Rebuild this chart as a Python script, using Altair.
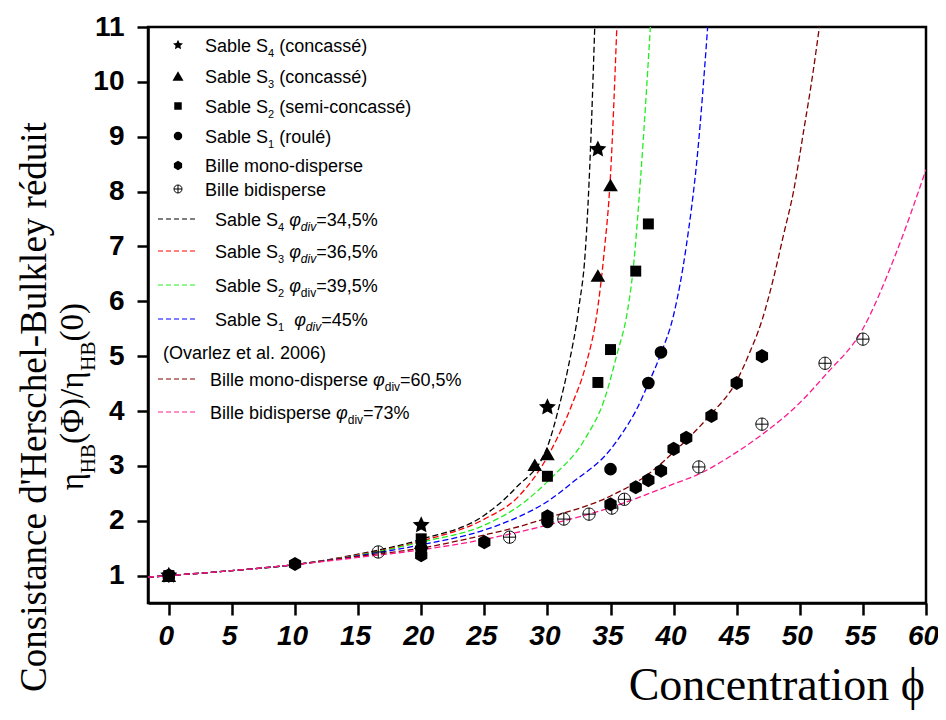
import math
import altair as alt
import pandas as pd

s4_x = [0, 20, 30, 34]
s4_y = [1.0, 1.92, 4.07, 8.77]
s3_x = [0, 20, 29, 30, 34, 35]
s3_y = [1.0, 1.6, 3.02, 3.22, 6.47, 8.12]
s2_x = [0, 20, 30, 34, 35, 37, 38]
s2_y = [1.0, 1.67, 2.81, 4.52, 5.12, 6.55, 7.41]
s1_x = [0, 20, 30, 35, 38, 39]
s1_y = [1.0, 1.5, 1.98, 2.94, 4.51, 5.07]
mono_x = [0, 10, 20, 25, 30, 35, 37, 38, 39, 40, 41, 43, 45, 47]
mono_y = [1.0, 1.21, 1.37, 1.61, 2.08, 2.3, 2.61, 2.74, 2.91, 3.31, 3.51, 3.91, 4.51, 5.0]
bi_x = [16.6, 27, 31.3, 33.3, 35.1, 36.1, 42, 47, 52, 55]
bi_y = [1.43, 1.70, 2.03, 2.12, 2.23, 2.39, 2.98, 3.76, 4.87, 5.31]

# ---------------- model curves ----------------
cx_S4 = [-1.65, 0, 5, 10, 15, 20, 25, 27.5, 30, 31, 31.65, 32.5, 33, 33.4, 33.75]
cy_S4 = [0.97, 1.0, 1.09, 1.2, 1.39, 1.66, 2.1, 2.6, 3.35, 4.15, 4.8, 5.9, 6.9, 8.7, 11.0]
cx_S3 = [-1.65, 0, 5, 10, 15, 20, 25, 27.7, 30.3, 32, 33, 34, 34.5, 35, 35.5]
cy_S3 = [0.97, 1.0, 1.09, 1.2, 1.38, 1.63, 2.03, 2.44, 3.29, 4.15, 4.8, 5.9, 6.9, 8.3, 11.0]
cx_S2 = [-1.65, 0, 5, 10, 15, 20, 25, 27.7, 30.3, 33, 34.5, 35.6, 36.25, 36.8, 37.4, 38.16]
cy_S2 = [0.97, 1.0, 1.09, 1.2, 1.37, 1.61, 1.92, 2.26, 2.78, 3.5, 4.2, 5.11, 5.7, 6.6, 8.3, 11.0]
cx_S1 = [-1.65, 0, 5, 10, 15, 20, 25, 27.7, 30, 32, 35, 36, 37, 38, 39, 40, 41, 41.9, 42.7]
cy_S1 = [0.97, 1.0, 1.09, 1.2, 1.36, 1.56, 1.83, 2.07, 2.35, 2.7, 3.3, 3.62, 4.0, 4.5, 5.05, 5.75, 7.0, 8.7, 11.0]
cx_mono = [-1.65, 0, 5, 10, 15, 20, 25, 27.7, 30, 35, 38, 40, 42, 43, 45, 46, 47, 48, 48.7, 49.5, 50.3, 51, 51.55]
cy_mono = [0.97, 1.0, 1.09, 1.2, 1.35, 1.5, 1.74, 1.89, 2.05, 2.45, 2.85, 3.25, 3.7, 3.95, 4.55, 5.05, 5.65, 6.5, 7.2, 8.0, 9.1, 10.1, 11.0]
cx_bi = [-1.65, 0, 5, 10, 15, 20, 25, 30, 35, 40, 42, 45, 47, 50, 52, 55, 57.5, 60]
cy_bi = [0.97, 1.0, 1.09, 1.2, 1.33, 1.47, 1.66, 1.92, 2.24, 2.67, 2.85, 3.25, 3.57, 4.15, 4.65, 5.5, 6.8, 8.4]

curve_names = ["S4", "S3", "S2", "S1", "mono", "bi"]
curve_colors = ["#000000", "#FF0000", "#22EE22", "#0000FF", "#800000", "#FF1A8C"]

x_ticks = [i * 2.5 for i in range(25)]
y_ticks = [1 + 0.5 * i for i in range(21)]

# legend labels: (text, kind) segments
legend_marker_labels = [
    [("Sable S", "n"), ("4", "s"), (" (concassé)", "n")],
    [("Sable S", "n"), ("3", "s"), (" (concassé)", "n")],
    [("Sable S", "n"), ("2", "s"), (" (semi-concassé)", "n")],
    [("Sable S", "n"), ("1", "s"), (" (roulé)", "n")],
    [("Bille mono-disperse", "n")],
    [("Bille bidisperse", "n")],
]
legend_line_labels = [
    [("Sable S", "n"), ("4", "s"), (" ", "n"), ("φ", "i"), ("div", "is"), ("=34,5%", "n")],
    [("Sable S", "n"), ("3", "s"), (" ", "n"), ("φ", "i"), ("div", "is"), ("=36,5%", "n")],
    [("Sable S", "n"), ("2", "s"), (" ", "n"), ("φ", "i"), ("div", "ns"), ("=39,5%", "n")],
    [("Sable S", "n"), ("1", "s"), ("  ", "n"), ("φ", "i"), ("div", "is"), ("=45%", "n")],
    [("Bille mono-disperse ", "n"), ("φ", "i"), ("div", "ns"), ("=60,5%", "n")],
    [("Bille bidisperse ", "n"), ("φ", "i"), ("div", "ns"), ("=73%", "n")],
]
ovarlez_label = "(Ovarlez et al. 2006)"
x_title = "Concentration ϕ"
y_title_1 = "Consistance d'Herschel-Bulkley réduit"
y_title_2 = [("η", "n"), ("HB", "s"), ("(Φ)/η", "n"), ("HB", "s"), ("(0)", "n")]

# ---------------- shapes ----------------
pts = []
for k in range(10):
    a = math.radians(-90 + 36 * k)
    r = 1.0 if k % 2 == 0 else 0.48
    pts.append(f"{r*math.cos(a):.3f},{r*math.sin(a):.3f}")
STAR = "M" + "L".join(pts) + "Z"
HEX = "M0,-1L0.866,-0.5L0.866,0.5L0,1L-0.866,0.5L-0.866,-0.5Z"
OPLUS = "M1,0A1,1,0,1,1,-1,0A1,1,0,1,1,1,0ZM-1,0L1,0M0,-1L0,1"

legend_series = ["S4", "S3", "S2", "S1", "mono"]
legend_shapes = [STAR, "triangle-up", "square", "circle", HEX]
legend_sizes = [110, 121, 56, 72, 90]
# drawing order of data markers (last drawn on top)
draw_order = ["S2", "S1", "S3", "mono", "S4"]
shape_of = dict(zip(legend_series, legend_shapes))
size_of = {"S4": 320, "S3": 215, "S2": 120, "S1": 160, "mono": 200}

# ---------------- tables ----------------
series_data = {"S4": (s4_x, s4_y), "S3": (s3_x, s3_y), "S2": (s2_x, s2_y),
               "S1": (s1_x, s1_y), "mono": (mono_x, mono_y)}
bi_df = pd.DataFrame({"x": bi_x, "y": bi_y})
curves_df = pd.concat([
    pd.DataFrame({"x": xs, "y": ys, "curve": name})
    for name, xs, ys in [("S4", cx_S4, cy_S4), ("S3", cx_S3, cy_S3), ("S2", cx_S2, cy_S2),
                         ("S1", cx_S1, cy_S1), ("mono", cx_mono, cy_mono), ("bi", cx_bi, cy_bi)]
])

# Arial (Liberation Sans) advance widths /1000
AW = {' ': 278, '(': 333, ')': 333, ',': 278, '-': 333, '.': 278, '%': 889, '=': 584,
      'a': 556, 'b': 556, 'c': 500, 'd': 556, 'e': 556, 'f': 278, 'g': 556, 'h': 556, 'i': 222,
      'j': 222, 'k': 500, 'l': 222, 'm': 833, 'n': 556, 'o': 556, 'p': 556, 'q': 556, 'r': 333,
      's': 500, 't': 278, 'u': 556, 'v': 500, 'w': 722, 'x': 500, 'y': 500, 'z': 500,
      'B': 667, 'O': 778, 'S': 667, 'é': 556, 'φ': 650}
TW = {'η': 520, 'H': 722, 'B': 667, '(': 333, ')': 333, 'Φ': 760, '/': 278, '0': 500}

KIND = {"n": (18, 0, "n"), "s": (11, 5, "n"), "i": (18, 0, "i"), "is": (12, 5, "i"), "ns": (12, 5, "n")}


def wid(s, fs):
    return sum(AW.get(c, 556) for c in s) * fs / 1000.0


def layout(segs, x0, y0):
    rows = []
    x = x0
    for txt, kind in segs:
        fs, dy, style = KIND[kind]
        lead = len(txt) - len(txt.lstrip(" "))
        body = txt.strip(" ")
        if body:
            rows.append({"px": x + wid(" " * lead, fs), "py": y0 + dy, "t": body, "fs": fs, "st": style})
        x += wid(txt, fs)
    return rows


marker_rows_y = [18, 49, 79, 109, 138.5, 162]
line_rows_y = [192, 224, 258, 292, 352, 385]
ovarlez_y = 325

text_rows = []
for segs, yc in zip(legend_marker_labels, marker_rows_y):
    text_rows += layout(segs, 57, yc + 6.5)
for i, (segs, yc) in enumerate(zip(legend_line_labels, line_rows_y)):
    text_rows += layout(segs, 67 if i < 4 else 62, yc + 6.5)
text_rows += layout([(ovarlez_label, "n")], 15, ovarlez_y + 6.5)
text_df = pd.DataFrame(text_rows)

leg_sym_df = pd.DataFrame({"px": 30, "py": marker_rows_y[:5], "shape": legend_shapes,
                           "size": legend_sizes})
leg_open_df = pd.DataFrame({"px": [30], "py": [marker_rows_y[5]]})
leg_line_df = pd.DataFrame({"x1": 10, "x2": 50, "py": line_rows_y, "c": curve_colors})

# y title line 2 (rotated), laid out upward
yt_rows = []
ypos = 0.0
F2, FS2 = 33, 21
for txt, kind in y_title_2:
    fs = F2 if kind == "n" else FS2
    yt_rows.append({"txt": txt, "fs": fs, "dx": 0 if kind == "n" else 12, "off": ypos})
    ypos += sum(TW.get(c, 500) for c in txt) * fs / 1000.0
start = 276 + ypos
yt2_df = pd.DataFrame([{"px": -65 + r["dx"], "py": start - r["off"], "t": r["txt"], "fs": r["fs"]}
                       for r in yt_rows])
yt1_df = pd.DataFrame({"px": [-102], "py": [380], "t": [y_title_1]})

# ---------------- chart ----------------
W, H = 778, 576
xt_df = pd.DataFrame({"px": [W - 1], "py": [673], "t": [x_title]})
xs = alt.Scale(domain=[-1.65, 60], nice=False, zero=False)
ys = alt.Scale(domain=[0.5, 11], nice=False, zero=False)

x_axis = alt.Axis(
    values=x_ticks, title=None, grid=False, format=".1~f",
    labelExpr="datum.value % 5 === 0 ? datum.label : ''",
    tickSize={"condition": {"test": "datum.value % 5 !== 0", "value": 6}, "value": 12},
    labelFont="Liberation Sans", labelFontSize=28, labelFontWeight="bold", labelFontStyle="italic",
    labelPadding=7, labelOffset=-3, labelOverlap=False, labelFlush=False, labelColor="black",
    domainColor="black", domainWidth=2.5, tickColor="black", tickWidth=2.5)
y_axis = alt.Axis(
    values=y_ticks, title=None, grid=False, format=".1~f",
    labelExpr="datum.value % 1 === 0 ? datum.label : ''",
    tickSize={"condition": {"test": "datum.value % 1 !== 0", "value": 5}, "value": 11},
    labelFont="Liberation Sans", labelFontSize=28, labelFontWeight="bold",
    labelPadding=13, labelOverlap=False, labelFlush=False, labelColor="black",
    domainColor="black", domainWidth=2.5, tickColor="black", tickWidth=2.5)

curves = alt.Chart(curves_df).mark_line(
    strokeDash=[6, 3], strokeWidth=1.3, clip=True, interpolate="monotone"
).encode(
    x=alt.X("x:Q", scale=xs, axis=x_axis),
    y=alt.Y("y:Q", scale=ys, axis=y_axis),
    color=alt.Color("curve:N", scale=alt.Scale(domain=curve_names, range=curve_colors), legend=None),
    detail="curve:N",
)

# one layer per marker series, stacked in draw order
marker_layers = [
    alt.Chart(pd.DataFrame({"x": series_data[n][0], "y": series_data[n][1]})).mark_point(
        filled=True, opacity=1, color="black", shape=shape_of[n], size=size_of[n]
    ).encode(x=alt.X("x:Q", scale=xs), y=alt.Y("y:Q", scale=ys))
    for n in draw_order
]

bi_pts = alt.Chart(bi_df).mark_point(
    filled=False, shape=OPLUS, size=150, color="black", strokeWidth=1, opacity=1
).encode(x=alt.X("x:Q", scale=xs), y=alt.Y("y:Q", scale=ys))

PX = lambda f: alt.X(f, scale=None, axis=None)
PY = lambda f: alt.Y(f, scale=None, axis=None)

leg_lines = alt.Chart(leg_line_df).mark_rule(strokeDash=[5, 3], strokeWidth=1.2).encode(
    x=PX("x1:Q"), x2="x2:Q", y=PY("py:Q"), color=alt.Color("c:N", scale=None))

leg_syms = alt.Chart(leg_sym_df).mark_point(filled=True, opacity=1, color="black").encode(
    x=PX("px:Q"), y=PY("py:Q"),
    shape=alt.Shape("shape:N", scale=None), size=alt.Size("size:Q", scale=None))

leg_open = alt.Chart(leg_open_df).mark_point(
    filled=False, shape=OPLUS, size=64, color="black", strokeWidth=1, opacity=1
).encode(x=PX("px:Q"), y=PY("py:Q"))

txt_n = alt.Chart(text_df).transform_filter("datum.st === 'n'").mark_text(
    font="Liberation Sans", align="left", baseline="alphabetic", color="black"
).encode(x=PX("px:Q"), y=PY("py:Q"), text="t:N", size=alt.Size("fs:Q", scale=None))

txt_i = alt.Chart(text_df).transform_filter("datum.st === 'i'").mark_text(
    font="Liberation Sans", fontStyle="italic", align="left", baseline="alphabetic", color="black"
).encode(x=PX("px:Q"), y=PY("py:Q"), text="t:N", size=alt.Size("fs:Q", scale=None))

yt1 = alt.Chart(yt1_df).mark_text(
    font="Liberation Serif", fontSize=37, angle=270, align="center", baseline="alphabetic", color="black"
).encode(x=PX("px:Q"), y=PY("py:Q"), text="t:N")

yt2 = alt.Chart(yt2_df).mark_text(
    font="Liberation Serif", angle=270, align="left", baseline="alphabetic", color="black"
).encode(x=PX("px:Q"), y=PY("py:Q"), text="t:N", size=alt.Size("fs:Q", scale=None))

xt = alt.Chart(xt_df).mark_text(
    font="Liberation Serif", fontSize=46, align="right", baseline="alphabetic", color="black"
).encode(x=PX("px:Q"), y=PY("py:Q"), text="t:N")

chart = alt.layer(
    curves, *marker_layers, bi_pts, leg_lines, leg_syms, leg_open, txt_n, txt_i, yt1, yt2, xt
).properties(
    width=W, height=H,
    autosize=alt.AutoSizeParams(type="none"),
    padding={"left": 140, "top": 19, "right": 12, "bottom": 109},
    background="white",
).configure_view(stroke="black", strokeWidth=2.5)

chart.save("out.html", embed_options={"renderer": "svg", "actions": False})
